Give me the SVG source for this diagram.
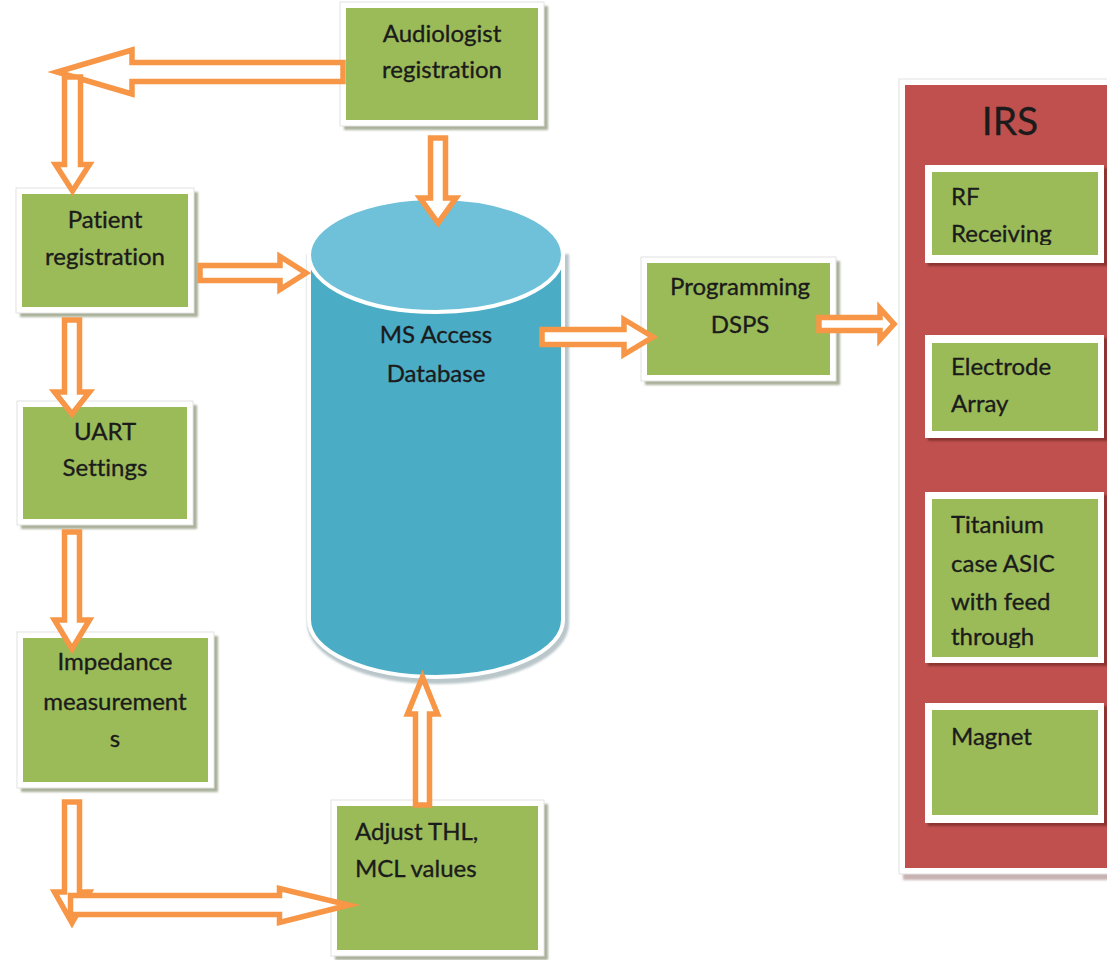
<svg xmlns="http://www.w3.org/2000/svg" width="1107" height="960" viewBox="0 0 1107 960">
  <defs>
    <style>
      .frame{fill:#ffffff;stroke:#e2e2e2;stroke-width:1}
      .shadow{fill:#a9b19a;filter:url(#soft)}
      .green{fill:#9BBB59}
      .label{font-family:Lato,"Liberation Sans",sans-serif;font-size:24px;fill:#1b1b1b;stroke:#1b1b1b;stroke-width:0.35;font-variant-ligatures:none;font-feature-settings:"liga" 0}
      .mid{text-anchor:middle}
      .arrow{fill:#ffffff;stroke:#F79646;stroke-width:5.5;stroke-linejoin:miter;stroke-miterlimit:8}
      .ishadow{fill:#8a3532;filter:url(#soft)}
    </style>
    <filter id="soft" x="-10%" y="-10%" width="120%" height="120%">
      <feGaussianBlur stdDeviation="1.2"/>
    </filter>
    <clipPath id="clipRF"><rect x="932" y="172" width="166" height="73"/></clipPath>
    <clipPath id="clipTi"><rect x="932" y="499" width="166" height="149"/></clipPath>
  </defs>

  <rect width="1107" height="960" fill="#ffffff"/>

  <!-- process boxes -->
  <g id="audiologist">
    <rect class="shadow" x="344" y="6" width="204" height="124"/>
    <rect class="frame" x="340" y="2" width="204" height="124"/>
    <rect class="green" x="346" y="8" width="192" height="112"/>
    <text class="label mid" x="442" y="42">Audiologist</text>
    <text class="label mid" x="442" y="78">registration</text>
  </g>

  <g id="patient">
    <rect class="shadow" x="20" y="192" width="178" height="125"/>
    <rect class="frame" x="16" y="188" width="178" height="125"/>
    <rect class="green" x="22" y="194" width="166" height="113"/>
    <text class="label mid" x="105" y="228">Patient</text>
    <text class="label mid" x="105" y="265">registration</text>
  </g>

  <g id="uart">
    <rect class="shadow" x="21" y="405" width="176" height="124"/>
    <rect class="frame" x="17" y="401" width="176" height="124"/>
    <rect class="green" x="23" y="407" width="164" height="112"/>
    <text class="label mid" x="105" y="440">UART</text>
    <text class="label mid" x="105" y="476">Settings</text>
  </g>

  <g id="impedance">
    <rect class="shadow" x="21" y="636" width="197" height="156"/>
    <rect class="frame" x="17" y="632" width="197" height="156"/>
    <rect class="green" x="23" y="638" width="185" height="144"/>
    <text class="label mid" x="115" y="670">Impedance</text>
    <text class="label mid" x="115" y="710">measurement</text>
    <text class="label mid" x="115" y="747">s</text>
  </g>

  <g id="adjust">
    <rect class="shadow" x="335" y="804" width="213" height="156"/>
    <rect class="frame" x="331" y="800" width="213" height="156"/>
    <rect class="green" x="337" y="806" width="201" height="144"/>
    <text class="label" x="355" y="840">Adjust THL,</text>
    <text class="label" x="355" y="877">MCL values</text>
  </g>

  <g id="programming">
    <rect class="shadow" x="645" y="261" width="195" height="124"/>
    <rect class="frame" x="641" y="257" width="195" height="124"/>
    <rect class="green" x="647" y="263" width="183" height="112"/>
    <text class="label mid" x="740" y="295">Programming</text>
    <text class="label mid" x="740" y="333">DSPS</text>
  </g>

  <!-- database cylinder -->
  <g id="database">
    <path d="M309,255 V620 A127,57 0 0 0 563,620 V255 Z" fill="none" stroke="#b9c6ca" stroke-width="8" transform="translate(2,3)" filter="url(#soft)"/>
    <path d="M309,255 V620 A127,57 0 0 0 563,620 V255 Z" fill="#4BACC6" stroke="#ffffff" stroke-width="4"/>
    <ellipse cx="436" cy="255" rx="127" ry="57" fill="#6EC1D9" stroke="#ffffff" stroke-width="4"/>
    <text class="label mid" x="436" y="343">MS Access</text>
    <text class="label mid" x="436" y="382">Database</text>
  </g>

  <!-- implant receiver-stimulator panel -->
  <g id="irs">
    <rect x="903" y="83" width="220" height="797" fill="#c9b3b2" filter="url(#soft)"/>
    <rect x="899" y="79" width="220" height="795" fill="#ffffff" stroke="#e2e2e2" stroke-width="1"/>
    <rect x="905" y="85" width="210" height="783" fill="#C0504D"/>
    <text x="1010" y="135" text-anchor="middle" font-family="Lato,'Liberation Sans',sans-serif" font-size="39" fill="#1b1b1b" stroke="#1b1b1b" stroke-width="0.3">IRS</text>
  </g>

  <g id="rf-receiving">
    <rect class="ishadow" x="928" y="168" width="180" height="98"/>
    <rect x="925" y="165" width="179" height="98" fill="#ffffff"/>
    <rect class="green" x="932" y="172" width="166" height="83"/>
    <g clip-path="url(#clipRF)">
      <text class="label" x="951" y="205">RF</text>
      <text class="label" x="951" y="242">Receiving</text>
    </g>
  </g>

  <g id="electrode-array">
    <rect class="ishadow" x="928" y="338" width="180" height="103"/>
    <rect x="925" y="335" width="179" height="103" fill="#ffffff"/>
    <rect class="green" x="932" y="343" width="166" height="88"/>
    <text class="label" x="951" y="375">Electrode</text>
    <text class="label" x="951" y="412">Array</text>
  </g>

  <g id="titanium-case">
    <rect class="ishadow" x="928" y="495" width="180" height="171"/>
    <rect x="925" y="492" width="179" height="171" fill="#ffffff"/>
    <rect class="green" x="932" y="499" width="166" height="158"/>
    <g clip-path="url(#clipTi)">
      <text class="label" x="951" y="533">Titanium</text>
      <text class="label" x="951" y="572">case ASIC</text>
      <text class="label" x="951" y="610">with feed</text>
      <text class="label" x="951" y="645">through</text>
    </g>
  </g>

  <g id="magnet">
    <rect class="ishadow" x="928" y="706" width="180" height="120"/>
    <rect x="925" y="703" width="179" height="120" fill="#ffffff"/>
    <rect class="green" x="932" y="710" width="166" height="105"/>
    <text class="label" x="951" y="745">Magnet</text>
  </g>

  <!-- block arrows -->
  <g id="connectors">
    <polygon class="arrow" points="343,62.5 132,62.5 132,50 57,72 132,94 132,81.5 343,81.5"/>
    <polygon class="arrow" points="64.5,77 80.5,77 80.5,164.5 89.5,164.5 72.5,191 55.5,164.5 64.5,164.5"/>
    <polygon class="arrow" points="64.5,320 79.5,320 79.5,392 89.5,392 72,414 54.5,392 64.5,392"/>
    <polygon class="arrow" points="64.5,532 79.5,532 79.5,620 89.5,620 72,649 54.5,620 64.5,620"/>
    <polygon class="arrow" points="64.5,802 79.5,802 79.5,892 89.5,892 72,923 54.5,892 64.5,892"/>
    <polygon class="arrow" points="70.5,895.5 279.5,895.5 279.5,888.5 349,905 279.5,922.5 279.5,914.5 70.5,914.5"/>
    <polygon class="arrow" points="415.5,805 415.5,714 407.5,714 422.5,677 437.5,714 429.5,714 429.5,805"/>
    <polygon class="arrow" points="430.5,138 445.5,138 445.5,198 456,198 438,223 420,198 430.5,198"/>
    <polygon class="arrow" points="200,265.5 280,265.5 280,256.5 306,273 280,289.5 280,280.5 200,280.5"/>
    <polygon class="arrow" points="542,329.5 624,329.5 624,319.5 653,337 624,354.5 624,344.5 542,344.5"/>
    <polygon class="arrow" points="819,317.5 880,317.5 880,308.5 894,324 880,339.5 880,330.5 819,330.5"/>
  </g>
</svg>
